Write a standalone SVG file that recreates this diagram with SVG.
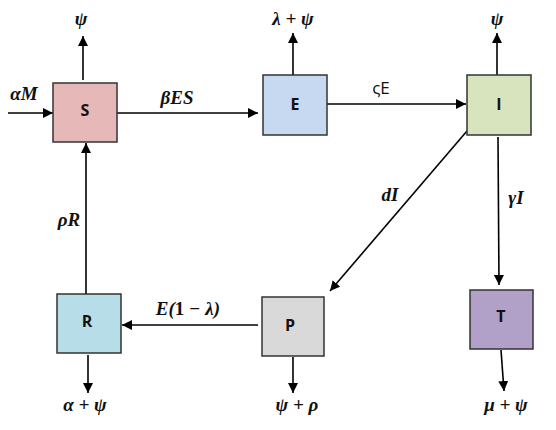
<svg xmlns="http://www.w3.org/2000/svg" width="556" height="430" viewBox="0 0 556 430">
<defs>
<marker id="ah" viewBox="0 0 10 10" refX="10" refY="5" markerWidth="10" markerHeight="10" markerUnits="userSpaceOnUse" orient="auto">
<path d="M0,0 L10,5 L0,10 Z" fill="#000"/>
</marker>
<style>
.box{stroke:#333;stroke-width:1.5}
.nl{font-family:"Open Sans","Liberation Sans",Arial,sans-serif;font-weight:bold;font-size:16px;fill:#111;text-anchor:middle}
.m{font-family:"Liberation Serif","Times New Roman",serif;font-weight:bold;font-style:italic;font-size:19px;fill:#111;text-anchor:middle}
.up{font-style:normal}
.s{font-family:"Open Sans","Liberation Sans",Arial,sans-serif;font-size:17px;fill:#111;text-anchor:middle}
.c{stroke:#000;stroke-width:1.6;fill:none;marker-end:url(#ah)}
</style>
</defs>
<rect width="556" height="430" fill="#fff"/>
<g id="connectors">
<line class="c" x1="8" y1="113" x2="53" y2="113"/>
<line class="c" x1="83" y1="80" x2="83" y2="36"/>
<line class="c" x1="117" y1="113" x2="258" y2="113"/>
<line class="c" x1="293" y1="75" x2="293" y2="33"/>
<line class="c" x1="327" y1="104" x2="466" y2="104"/>
<line class="c" x1="497" y1="75" x2="497" y2="33"/>
<line class="c" x1="467" y1="131" x2="330" y2="291"/>
<line class="c" x1="498" y1="137" x2="499" y2="285"/>
<line class="c" x1="501" y1="350" x2="504" y2="391"/>
<line class="c" x1="258" y1="325" x2="122" y2="325"/>
<line class="c" x1="86" y1="302" x2="86" y2="143"/>
<line class="c" x1="88" y1="355" x2="88" y2="393"/>
<line class="c" x1="293" y1="357" x2="293" y2="393"/>
</g>
<g id="S"><rect class="box" x="53" y="83" width="64" height="59" fill="#e6b8b7"/><text class="nl" x="85" y="116">S</text></g>
<g id="E"><rect class="box" x="263" y="75" width="64" height="60" fill="#c6d9f1"/><text class="nl" x="295" y="110">E</text></g>
<g id="I"><rect class="box" x="467" y="75" width="64" height="60" fill="#d7e4bd"/><text class="nl" x="499" y="110">I</text></g>
<g id="R"><rect class="box" x="57" y="294" width="64" height="59" fill="#b7dee8"/><text class="nl" x="87" y="327">R</text></g>
<g id="P"><rect class="box" x="262" y="297" width="62" height="59" fill="#d9d9d9"/><text class="nl" x="290" y="331">P</text></g>
<g id="T"><rect class="box" x="470" y="290" width="63" height="59" fill="#b1a0c7"/><text class="nl" x="501" y="322">T</text></g>
<g id="labels">
<text class="m" x="24" y="100">αM</text>
<text class="m" x="81" y="25">ψ</text>
<text class="m" x="177" y="104">βES</text>
<text class="m" x="293" y="25">λ + ψ</text>
<text class="s" x="381" y="94">ςE</text>
<text class="m" x="497" y="25">ψ</text>
<text class="m" x="390" y="201">dI</text>
<text class="m" x="516" y="204">γI</text>
<text class="m" x="69" y="226">ρR</text>
<text class="m" x="188" y="315">E(<tspan class="up">1</tspan> − λ)</text>
<text class="m" x="85" y="411">α + ψ</text>
<text class="m" x="297" y="411">ψ + ρ</text>
<text class="m" x="506" y="411">μ + ψ</text>
</g>
</svg>
